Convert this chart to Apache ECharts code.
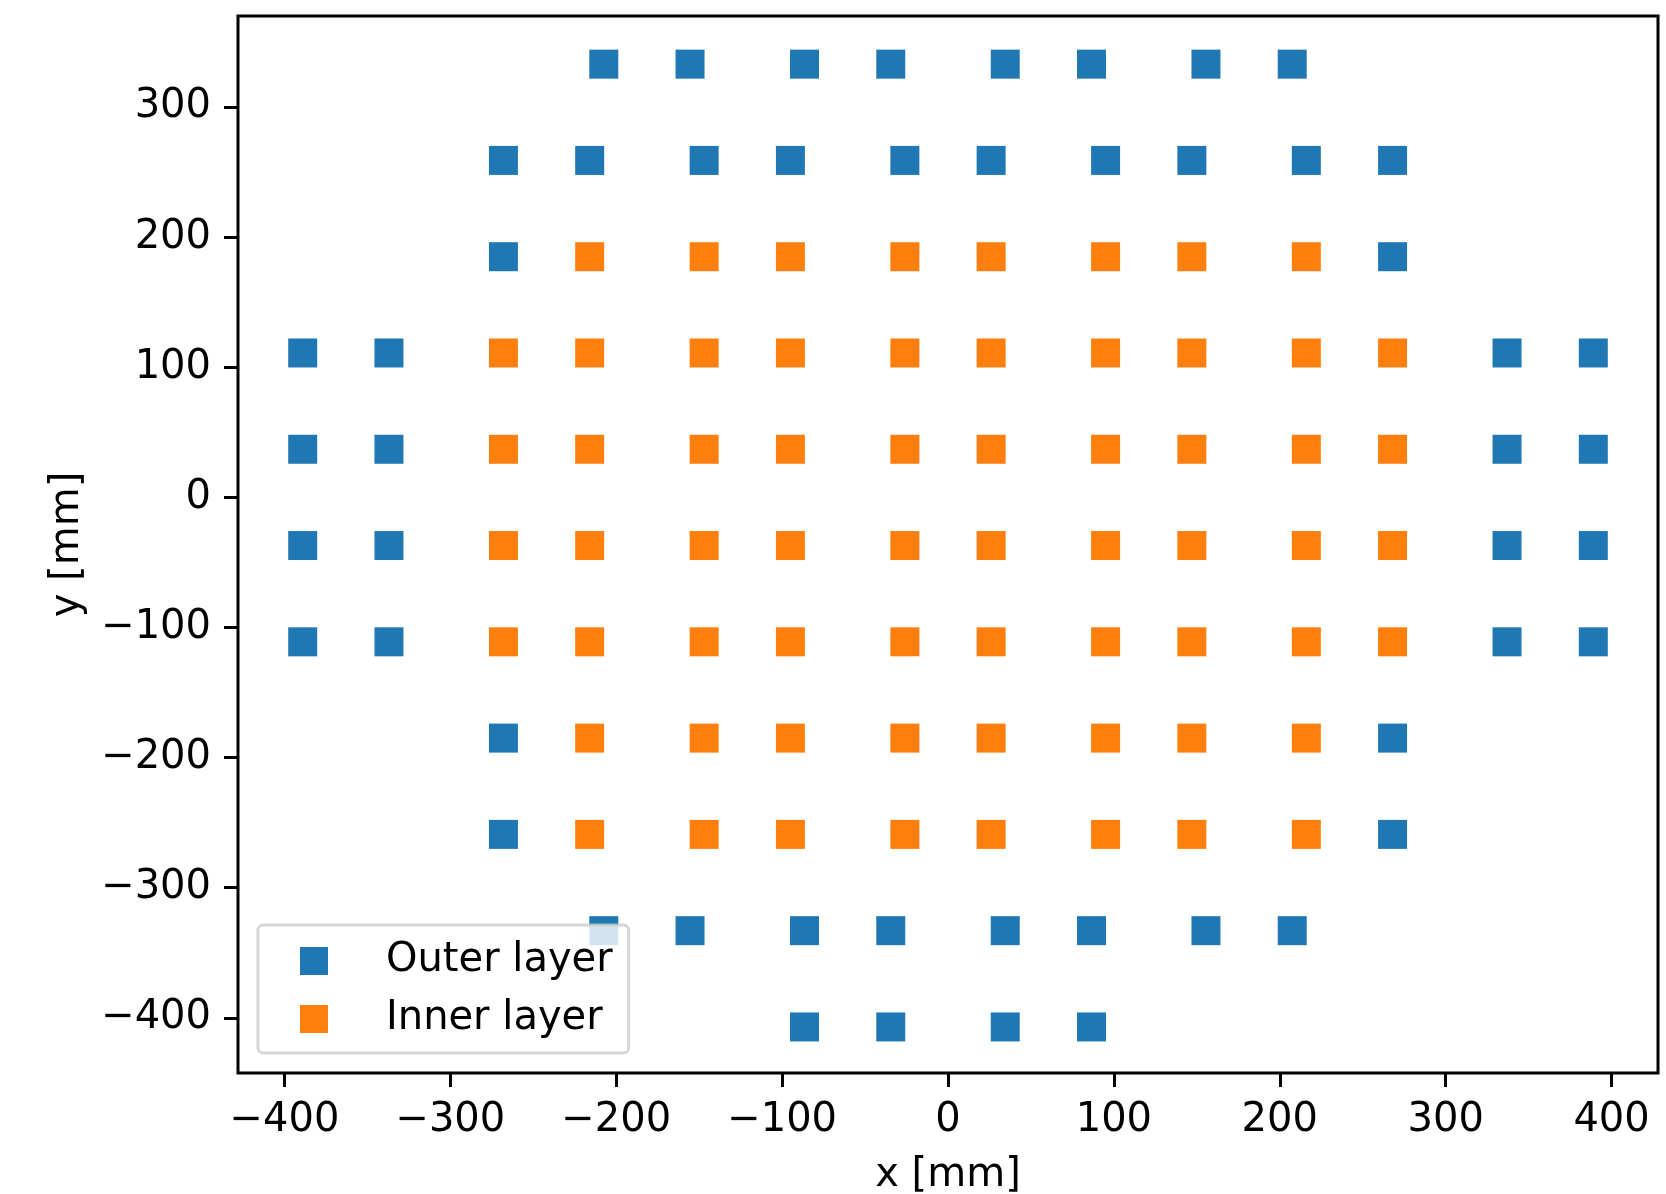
<!DOCTYPE html>
<html>
<head>
<meta charset="utf-8">
<script src="https://cdn.jsdelivr.net/npm/echarts@6/dist/echarts.min.js"></script>
<style>
  html, body { margin: 0; padding: 0; background: #fff; }
  #chart { width: 1666px; height: 1194px; }
</style>
</head>
<body>
<div id="chart"></div>
<script>
// Detector module positions in mm, [x, y]
const outerLayer = [
  [-207.5, 333], [-155.5, 333], [-86.5, 333], [-34.5, 333], [34.5, 333], [86.5, 333], [155.5, 333], [207.5, 333],
  [-268, 259], [-216, 259], [-147, 259], [-95, 259], [-26, 259], [26, 259], [95, 259], [147, 259], [216, 259], [268, 259],
  [-268, 185], [268, 185],
  [-389, 111], [-337, 111], [337, 111], [389, 111],
  [-389, 37], [-337, 37], [337, 37], [389, 37],
  [-389, -37], [-337, -37], [337, -37], [389, -37],
  [-389, -111], [-337, -111], [337, -111], [389, -111],
  [-268, -185], [268, -185],
  [-268, -259], [268, -259],
  [-207.5, -333], [-155.5, -333], [-86.5, -333], [-34.5, -333], [34.5, -333], [86.5, -333], [155.5, -333], [207.5, -333],
  [-86.5, -407], [-34.5, -407], [34.5, -407], [86.5, -407]
];

const innerLayer = [
  [-216, 185], [-147, 185], [-95, 185], [-26, 185], [26, 185], [95, 185], [147, 185], [216, 185],
  [-268, 111], [-216, 111], [-147, 111], [-95, 111], [-26, 111], [26, 111], [95, 111], [147, 111], [216, 111], [268, 111],
  [-268, 37], [-216, 37], [-147, 37], [-95, 37], [-26, 37], [26, 37], [95, 37], [147, 37], [216, 37], [268, 37],
  [-268, -37], [-216, -37], [-147, -37], [-95, -37], [-26, -37], [26, -37], [95, -37], [147, -37], [216, -37], [268, -37],
  [-268, -111], [-216, -111], [-147, -111], [-95, -111], [-26, -111], [26, -111], [95, -111], [147, -111], [216, -111], [268, -111],
  [-216, -185], [-147, -185], [-95, -185], [-26, -185], [26, -185], [95, -185], [147, -185], [216, -185],
  [-216, -259], [-147, -259], [-95, -259], [-26, -259], [26, -259], [95, -259], [147, -259], [216, -259]
];

const seriesNames = ['Outer layer', 'Inner layer'];
const xTicks = [-400, -300, -200, -100, 0, 100, 200, 300, 400];
const yTicks = [-400, -300, -200, -100, 0, 100, 200, 300];
const xRange = [-428, 428];
const yRange = [-442.4, 370];

const FONT = '"DejaVu Sans", sans-serif';
const fmt = v => (v < 0 ? '\u2212' + Math.abs(v) : String(v));

const chart = echarts.init(document.getElementById('chart'), null, { renderer: 'canvas' });

const axisCommon = {
  type: 'value',
  splitLine: { show: false },
  axisLine: { show: false, onZero: false },
  axisTick: { show: true, inside: false, length: 14, lineStyle: { color: '#000', width: 3 } },
  axisLabel: { color: '#000', fontSize: 40, fontFamily: FONT, formatter: fmt },
  nameLocation: 'middle',
  nameTextStyle: { color: '#000', fontSize: 40, fontFamily: FONT }
};

chart.setOption({
  animation: false,
  backgroundColor: '#fff',
  grid: {
    left: 238, top: 16, right: 8, bottom: 121,
    show: true, borderColor: '#000', borderWidth: 3,
    backgroundColor: 'transparent',
    outerBoundsMode: 'none'
  },
  legend: {
    orient: 'vertical',
    left: 258, top: 925,
    data: seriesNames.map(n => ({ name: n, icon: 'rect' })),
    itemWidth: 28, itemHeight: 28, itemGap: 18,
    padding: [16, 16, 14, 42],
    backgroundColor: 'rgba(255,255,255,0.8)',
    borderColor: 'rgba(204,204,204,0.8)',
    borderWidth: 3, borderRadius: 5,
    selectedMode: false,
    textStyle: { color: '#000', fontSize: 40, fontFamily: FONT, lineHeight: 40, padding: [0, 0, 0, 53] }
  },
  xAxis: Object.assign({}, axisCommon, {
    min: xRange[0], max: xRange[1],
    name: 'x [mm]', nameGap: 83,
    axisTick: Object.assign({}, axisCommon.axisTick, { customValues: xTicks }),
    axisLabel: Object.assign({}, axisCommon.axisLabel, { customValues: xTicks, margin: 28 })
  }),
  yAxis: Object.assign({}, axisCommon, {
    min: yRange[0], max: yRange[1],
    name: 'y [mm]', nameGap: 150,
    axisTick: Object.assign({}, axisCommon.axisTick, { customValues: yTicks }),
    axisLabel: Object.assign({}, axisCommon.axisLabel, { customValues: yTicks, margin: 27, padding: [12, 0, 0, 0] })
  }),
  series: [
    {
      name: seriesNames[0], type: 'scatter', data: outerLayer,
      symbol: 'rect', symbolSize: 29,
      itemStyle: { color: '#1f77b4', opacity: 1 }
    },
    {
      name: seriesNames[1], type: 'scatter', data: innerLayer,
      symbol: 'rect', symbolSize: 29,
      itemStyle: { color: '#ff7f0e', opacity: 1 }
    }
  ]
});
</script>
</body>
</html>
